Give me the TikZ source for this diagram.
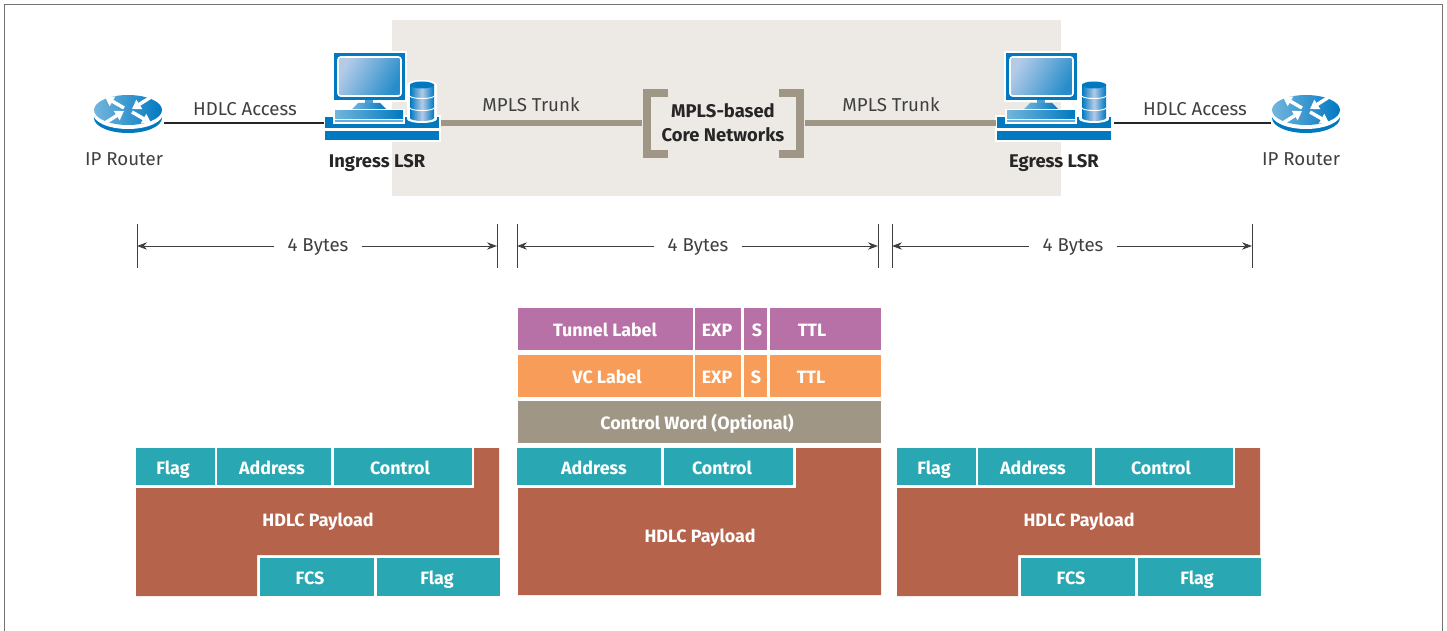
\documentclass[tikz,border=0pt]{standalone}
\usepackage{fontspec}
\setmainfont{Fira Sans}
\usetikzlibrary{arrows.meta}
\definecolor{coreshade}{HTML}{EDE9E4}
\definecolor{trunk}{HTML}{A09686}
\definecolor{iconblue}{HTML}{0079C1}
\definecolor{iconlight}{HTML}{B4CBE8}
\definecolor{teal}{HTML}{29A7B3}
\definecolor{brick}{HTML}{B5634B}
\definecolor{tunnel}{HTML}{B771A6}
\definecolor{vclabel}{HTML}{F89D59}
\definecolor{ink}{HTML}{3F3F3F}
\newcommand{\trunky}{123}
\newcommand{\bytesy}{246}

\begin{document}
\begin{tikzpicture}[x=0.75pt, y=-0.75pt, >={Stealth[length=7.5pt, width=5.5pt]}]
  \tikzset{plain/.style={font=\fontsize{14}{16}\selectfont, text=ink, inner sep=1pt}}
  \tikzset{strong/.style={font=\fontsize{13.8}{16}\selectfont\bfseries, text=black!85, inner sep=1pt, align=center}}
  \tikzset{fieldtext/.style={font=\fontsize{13.4}{15}\selectfont\bfseries, text=white, inner sep=0pt}}
  \tikzset{access/.style={draw=black!85, line width=0.8pt}}
  \tikzset{trunkline/.style={draw=trunk, line width=5.2pt}}
  \tikzset{tick/.style={draw=ink, line width=0.7pt}}
  \tikzset{dimline/.style={draw=ink, line width=0.7pt}}
  \tikzset{router/.pic={
    \fill[iconblue] (0,8) ellipse[x radius=34, y radius=15];
    \fill[white] (0,3.5) ellipse[x radius=35, y radius=15.5];
    \shade[left color=iconblue!55, right color=iconblue] (0,0) ellipse[x radius=34, y radius=15];
    \foreach \xa/\ya/\xb/\yb in {-4/-2/-23/-13, 23/-13/4/-1, -23/13/-4/1, 4/2/23/13}
      \draw[white, line width=2.6pt, -{Triangle[length=6.5pt, width=8pt]}] (\xa,\ya) -- (\xb,\yb);
  }}
  \tikzset{lsr/.pic={
    % monitor
    \fill[white] (332,51) rectangle (407,102);
    \fill[iconblue] (334,53) rectangle (405,100);
    \shade[left color=iconlight, right color=iconblue!85, shading angle=60, draw=white, line width=1.2pt, rounded corners=2pt] (338,57) rectangle (401,96);
    \fill[iconblue!70] (365,100) rectangle (373,103);
    \shade[left color=iconblue!55, right color=iconblue] (358,103) -- (380,103) -- (386,109) -- (352,109) -- cycle;
    % desk
    \fill[white] (323,115) rectangle (441,142);
    \fill[iconblue] (325,117) rectangle (439,128);
    \fill[iconblue] (325,131) rectangle (439,140);
    % keyboard
    \fill[white] (333,109) rectangle (405,124);
    \shade[left color=iconblue!55, right color=iconblue] (335,111) rectangle (403,119);
    \fill[iconblue!60] (335,120) rectangle (403,122);
    % disk
    \fill[white] (407,85) rectangle (437,119);
    \fill[white] (422,85) ellipse[x radius=15, y radius=5];
    \fill[white] (422,119) ellipse[x radius=15, y radius=4];
    \shade[left color=iconblue, right color=iconblue, middle color=iconlight] (410,85) rectangle (434,118);
    \shade[left color=iconblue, right color=iconblue, middle color=iconlight] (422,118) ellipse[x radius=12, y radius=3];
    \fill[iconblue] (422,85) ellipse[x radius=12, y radius=3.5];
    \draw[white, line width=0.7pt] (410,96) arc[start angle=180, end angle=360, x radius=12, y radius=-2.5];
    \draw[white, line width=0.7pt] (410,108) arc[start angle=180, end angle=360, x radius=12, y radius=-2.5];
  }}

  \useasboundingbox (0,0) rectangle (1447,631);
  \draw[draw=black!55, line width=0.75pt] (4,4.5) rectangle (1442,640);
  \fill[coreshade] (392,20) rectangle (1061,196);

  % top row
  \pic at (128,110) {router};
  \pic at (1306,110) {router};
  \pic at (0,0) {lsr};
  \pic at (672,0) {lsr};
  \node[inner sep=0pt] (routerleft) at (163,\trunky) {};
  \node[inner sep=0pt] (routerright) at (1272,\trunky) {};
  \node[inner sep=0pt] (ingressin) at (325,\trunky) {};
  \node[inner sep=0pt] (ingressout) at (440,\trunky) {};
  \node[inner sep=0pt] (egressin) at (997,\trunky) {};
  \node[inner sep=0pt] (egressout) at (1113,\trunky) {};
  \node[inner sep=0pt] (coreleft) at (643,\trunky) {};
  \node[inner sep=0pt] (coreright) at (804,\trunky) {};
  \draw[access] (routerleft) -- (ingressin);
  \draw[access] (egressout) -- (routerright);
  \draw[trunkline] (ingressout) -- (coreleft);
  \draw[trunkline] (coreright) -- (egressin);
  \draw[draw=trunk, line width=6pt, line cap=butt]
    (668,93) -- (647,93) -- (647,154) -- (668,154)
    (779,93) -- (800,93) -- (800,154) -- (779,154);

  \node[plain] (hdlcleft) at (245,109) {HDLC Access};
  \node[plain] (hdlcright) at (1195,109) {HDLC Access};
  \node[plain] (trunkleft) at (531,105) {MPLS Trunk};
  \node[plain] (trunkright) at (891,105) {MPLS Trunk};
  \node[plain] (ipleft) at (124,159) {IP Router};
  \node[plain] (ipright) at (1301,159) {IP Router};
  \node[strong] (ingress) at (377,163) {Ingress LSR};
  \node[strong] (egress) at (1054,163) {Egress LSR};
  \node[strong] (core) at (723,123) {MPLS-based\\[2pt]Core Networks};

  % byte rulers
  \foreach \name/\xa/\xb/\xt in {bytesa/137/497/318, bytesb/517/878/698, bytesc/892/1252/1073} {
    \draw[tick] (\xa,224) -- (\xa,268);
    \draw[tick] (\xb,224) -- (\xb,268);
    \coordinate (\name l) at (\xa,\bytesy);
    \coordinate (\name r) at (\xb,\bytesy);
    \node[plain, inner sep=0pt, minimum width=65pt, anchor=base] (\name) at (\xt,\bytesy+6) {4 Bytes};
    \draw[dimline, <-] (\name l) -- (\name l -| \name.west);
    \draw[dimline, ->] (\name r -| \name.east) -- (\name r);
  }

  % label stack
  \foreach \name/\col/\xa/\xb/\ya/\yb/\xt/\txt in {
    tunnellabel/tunnel/518/693/308/350/605/Tunnel Label,
    tunnelexp/tunnel/695/741/308/350/717/EXP,
    tunnels/tunnel/744/767/308/350/757/S,
    tunnelttl/tunnel/770/881/308/350/812/TTL,
    vclabel/vclabel/518/693/355/397/607/VC Label,
    vcexp/vclabel/695/741/355/397/717/EXP,
    vcs/vclabel/744/767/355/397/756/S,
    vcttl/vclabel/770/881/355/397/811/TTL,
    controlword/trunk/518/881/401/443/697/Control Word (Optional),
    flaga/teal/136/215/448/485/173/Flag,
    addressa/teal/217/331/448/485/272/Address,
    controla/teal/334/472/448/485/400/Control,
    fcsa/teal/260/374/558/596/310/FCS,
    flagb/teal/377/500/558/596/437/Flag,
    addressb/teal/517/661/448/485/594/Address,
    controlb/teal/664/793/448/485/722/Control,
    flagc/teal/897/976/448/485/934/Flag,
    addressc/teal/978/1092/448/485/1033/Address,
    controlc/teal/1095/1233/448/485/1161/Control,
    fcsc/teal/1021/1135/558/596/1071/FCS,
    flagd/teal/1138/1261/558/596/1197/Flag} {
    \fill[\col] (\xa,\ya) rectangle (\xb,\yb);
    \node[fieldtext, anchor=base] (\name) at (\xt,{(\ya+\yb)/2+7.5}) {\txt};
  }

  % payloads
  \fill[brick] (136,488) -- (474,488) -- (474,448) -- (499,448) -- (499,555) -- (257,555) -- (257,596) -- (136,596) -- cycle;
  \fill[brick] (518,488) -- (796,488) -- (796,448) -- (881,448) -- (881,595) -- (518,595) -- cycle;
  \fill[brick] (897,488) -- (1235,488) -- (1235,448) -- (1260,448) -- (1260,555) -- (1018,555) -- (1018,596) -- (897,596) -- cycle;
  \node[fieldtext, anchor=base] (payloada) at (318,526) {HDLC Payload};
  \node[fieldtext, anchor=base] (payloadb) at (700,542) {HDLC Payload};
  \node[fieldtext, anchor=base] (payloadc) at (1079,526) {HDLC Payload};
\end{tikzpicture}
\end{document}
